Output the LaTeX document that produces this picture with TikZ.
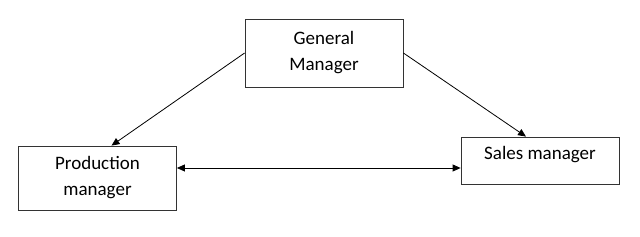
\documentclass[tikz,border=0pt]{standalone}
\usepackage{fontspec}
\setmainfont{Carlito}
\usetikzlibrary{arrows.meta}
\begin{document}
\begin{tikzpicture}[x=1pt, y=-1pt, >={Triangle[length=8pt, width=7pt]}]
        \tikzstyle{post}=[draw=black!80, line width=0.8pt, rectangle, align=center, minimum width=158pt, font=\fontsize{19}{26}\selectfont];
        \useasboundingbox (0,0) rectangle (640,237);

        \node[post, minimum height=68pt] (general) at (324,53) {General\\Manager};
        \node[post, minimum height=64pt] (production) at (97.5,178) {Production\\manager};
        \node[post, minimum height=47pt, text depth=16pt] (sales) at (540,160.5) {Sales manager};

        \draw[->, line width=0.8pt] (general.west) -- ([xshift=14pt]production.north);
        \draw[->, line width=0.8pt] (general.east) -- ([xshift=-14pt]sales.north);
        \draw[<->, line width=0.8pt] ([yshift=10pt]production.east) -- ([yshift=-7.5pt]sales.west);
    \end{tikzpicture}
\end{document}
